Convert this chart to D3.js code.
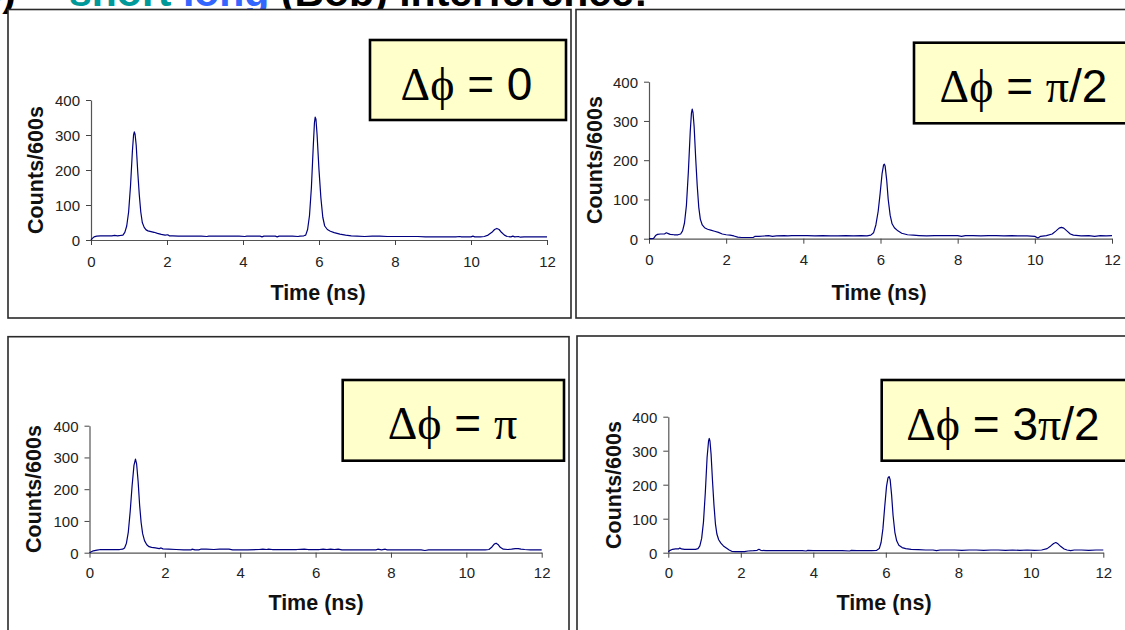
<!DOCTYPE html>
<html><head><meta charset="utf-8">
<script src="https://cdn.jsdelivr.net/npm/d3@7"></script>
<style>body{margin:0;background:#fff;overflow:hidden} svg{display:block}</style>
</head><body>
<svg id="c" width="1125" height="630"></svg>
<script>
// ---------- data ----------
const xTicks = [0, 2, 4, 6, 8, 10, 12];
const yTicks = [0, 100, 200, 300, 400];
const xTitle = "Time (ns)";
const yTitle = "Counts/600s";
const titleParts = [["short", "#009999"], ["long", "#3366ff"], ["(Bob) interference:", "#000"]];
const panelLabels = [
  [["Δϕ", "serif"], [" = ", "sans"], ["0", "sans"]],
  [["Δϕ", "serif"], [" = ", "sans"], ["π", "serif"], ["/2", "sans"]],
  [["Δϕ", "serif"], [" = ", "sans"], ["π", "serif"]],
  [["Δϕ", "serif"], [" = ", "sans"], ["3", "sans"], ["π", "serif"], ["/2", "sans"]]
];
// [time (ns), counts]
const seriesPhi0 = [[0,0],[0.03,4],[0.08,9],[0.15,11],[0.25,12],[0.35,12],[0.45,12],[0.55,12],[0.62,13],[0.7,12],[0.78,13],[0.84,14],[0.89,22],[0.94,40],[0.99,80],[1.04,155],[1.09,255],[1.12,300],[1.14,309],[1.16,302],[1.19,270],[1.23,195],[1.27,130],[1.31,80],[1.35,50],[1.4,36],[1.45,29],[1.5,26],[1.58,24],[1.66,22],[1.75,19],[1.85,16],[1.95,14],[2.02,15],[2.06,12],[2.15,12],[2.3,11],[2.5,11],[2.7,11],[2.9,11],[3.05,10],[3.1,11],[3.3,11],[3.5,11],[3.7,11],[3.9,11],[4.05,10],[4.1,11],[4.3,11],[4.45,11],[4.5,9],[4.55,11],[4.7,11],[4.85,11],[4.9,9],[4.95,11],[5.1,11],[5.3,11],[5.45,10],[5.5,11],[5.6,12],[5.65,14],[5.7,30],[5.75,70],[5.8,150],[5.85,270],[5.88,335],[5.9,351],[5.92,345],[5.95,300],[6.0,200],[6.05,120],[6.1,65],[6.15,40],[6.22,30],[6.3,25],[6.4,21],[6.55,17],[6.7,14],[6.85,12],[7.0,11],[7.2,10],[7.4,11],[7.6,11],[7.8,10],[8.0,10],[8.2,10],[8.4,10],[8.6,10],[8.8,9],[9.0,9],[9.2,9],[9.4,9],[9.6,9],[9.7,10],[9.75,9],[9.9,9],[10.0,9],[10.05,11],[10.1,9],[10.25,9],[10.35,10],[10.45,14],[10.55,22],[10.62,30],[10.68,33],[10.74,30],[10.8,22],[10.88,14],[10.95,10],[11.05,9],[11.1,11],[11.15,9],[11.25,10],[11.3,8],[11.4,9],[11.6,9],[11.8,9],[12.0,9]];
const seriesPhiHalfPi = [[0,0],[0.05,0],[0.12,1],[0.17,8],[0.22,11],[0.3,12],[0.4,12],[0.45,15],[0.5,13],[0.55,11],[0.65,10],[0.75,10],[0.82,12],[0.87,20],[0.92,40],[0.97,85],[1.02,170],[1.07,275],[1.1,320],[1.12,330],[1.14,322],[1.17,285],[1.21,205],[1.25,135],[1.29,80],[1.33,50],[1.38,35],[1.44,28],[1.52,24],[1.6,22],[1.7,19],[1.8,16],[1.9,12],[2.0,10],[2.1,9],[2.2,7],[2.3,4],[2.4,3],[2.5,3],[2.6,3],[2.7,3],[2.75,6],[2.85,6],[3.0,7],[3.1,8],[3.2,6],[3.3,7],[3.5,8],[3.6,7],[3.7,8],[3.9,8],[4.1,8],[4.3,7],[4.5,8],[4.7,7],[4.9,7],[5.1,8],[5.3,7],[5.5,8],[5.65,7],[5.75,9],[5.82,15],[5.88,35],[5.94,70],[5.99,115],[6.04,165],[6.08,188],[6.1,190],[6.12,185],[6.16,150],[6.2,100],[6.25,60],[6.3,38],[6.36,28],[6.45,20],[6.55,14],[6.7,10],[6.85,9],[7.0,8],[7.2,7],[7.4,8],[7.6,8],[7.8,8],[8.0,8],[8.1,6],[8.2,8],[8.4,8],[8.6,7],[8.8,8],[9.0,8],[9.2,7],[9.4,8],[9.6,7],[9.8,7],[10.0,6],[10.08,2],[10.15,6],[10.3,8],[10.45,12],[10.55,20],[10.63,27],[10.69,29],[10.75,27],[10.83,20],[10.92,12],[11.0,9],[11.2,7],[11.4,8],[11.55,6],[11.7,8],[11.85,7],[12.0,8]];
const seriesPhiPi = [[0,0],[0.05,3],[0.1,6],[0.2,8],[0.3,10],[0.4,10],[0.5,10],[0.6,10],[0.7,10],[0.8,10],[0.88,11],[0.93,15],[0.98,30],[1.03,65],[1.08,130],[1.13,210],[1.18,275],[1.22,295],[1.25,280],[1.29,225],[1.33,150],[1.37,95],[1.41,60],[1.46,38],[1.52,25],[1.58,19],[1.65,17],[1.75,15],[1.85,13],[1.9,15],[1.95,12],[2.1,11],[2.3,10],[2.5,9],[2.7,9],[2.72,11],[2.8,9],[2.9,9],[2.95,11],[3.1,11],[3.3,10],[3.45,11],[3.6,11],[3.7,11],[3.8,9],[4.0,9],[4.2,9],[4.5,10],[4.6,11],[4.7,10],[4.75,11],[4.85,10],[5.0,10],[5.2,10],[5.5,10],[5.7,11],[5.8,10],[6.0,10],[6.1,10],[6.2,11],[6.3,10],[6.4,11],[6.5,10],[6.6,11],[6.7,9],[7.0,9],[7.3,9],[7.6,9],[7.65,11],[7.75,9],[7.85,11],[7.9,9],[8.2,9],[8.5,9],[8.8,9],[8.9,7],[9.0,9],[9.3,9],[9.6,9],[9.9,9],[10.2,9],[10.5,9],[10.6,10],[10.68,18],[10.74,27],[10.79,30],[10.84,26],[10.9,17],[10.98,11],[11.1,10],[11.2,11],[11.3,13],[11.38,13],[11.45,11],[11.55,10],[11.7,9],[11.9,9],[12.0,9]];
const seriesPhi3HalfPi = [[0,3],[0.05,7],[0.12,10],[0.2,11],[0.28,11],[0.32,14],[0.36,11],[0.45,10],[0.55,10],[0.65,10],[0.75,10],[0.82,12],[0.87,20],[0.92,42],[0.97,90],[1.02,175],[1.07,280],[1.11,328],[1.13,336],[1.15,328],[1.18,290],[1.22,210],[1.26,140],[1.3,85],[1.34,55],[1.39,38],[1.45,28],[1.52,20],[1.6,14],[1.68,8],[1.75,4],[1.85,3],[2.0,3],[2.1,3],[2.2,5],[2.35,6],[2.45,7],[2.5,10],[2.55,7],[2.7,6],[2.9,6],[3.1,6],[3.3,6],[3.5,6],[3.7,6],[3.8,5],[3.85,7],[4.0,6],[4.2,6],[4.4,6],[4.6,6],[4.8,6],[5.0,5],[5.05,7],[5.2,6],[5.4,6],[5.6,6],[5.75,7],[5.82,12],[5.87,30],[5.92,70],[5.97,135],[6.02,195],[6.06,220],[6.09,224],[6.12,215],[6.16,170],[6.2,110],[6.25,60],[6.3,35],[6.36,22],[6.45,15],[6.55,12],[6.7,10],[6.9,9],[7.1,8],[7.3,8],[7.4,6],[7.5,8],[7.7,8],[7.9,8],[8.1,7],[8.3,8],[8.5,8],[8.7,7],[8.9,8],[9.1,8],[9.3,7],[9.5,8],[9.7,7],[9.9,8],[10.1,7],[10.3,8],[10.45,12],[10.55,20],[10.63,27],[10.69,30],[10.75,26],[10.83,18],[10.92,11],[11.0,8],[11.1,6],[11.2,8],[11.4,8],[11.6,7],[11.8,8],[12.0,8]];
const allSeries = [seriesPhi0, seriesPhiHalfPi, seriesPhiPi, seriesPhi3HalfPi];

// ---------- layout ----------
const layout = [
  {frame:[8,9.5,571,318], px:[91,547], py:[240,100], box:[370,40,566,120], lab:[466.5,100], yT:[35.5,170], xT:[318,300], tickBase:266.5},
  {frame:[576,9.5,1140,318], px:[649,1112], py:[238.7,81.7], box:[914,42.7,1140,123.3], lab:[1023.5,102], yT:[595,160], xT:[879,300], tickBase:265},
  {frame:[8,336.7,569,640], px:[89.5,541.7], py:[552.7,425.7], box:[342.7,380,564,460.7], lab:[452.5,439], yT:[33.5,489], xT:[316,610], tickBase:578.5},
  {frame:[577,336,1140,640], px:[668.3,1103.3], py:[552.7,416.7], box:[881.7,380,1140,460.7], lab:[1003,439.5], yT:[613.5,485], xT:[884,610], tickBase:577.7}
];
const SANS = "Arial, 'Liberation Sans', sans-serif";
const SERIF = "'Times New Roman', 'Liberation Serif', serif";

const svg = d3.select("#c");
svg.append("rect").attr("width",1125).attr("height",630).attr("fill","#fff");

// title (cut off at top, as in the reference)
const title = svg.append("g").attr("font-family", SANS).attr("font-weight","bold").attr("font-size",41);
title.append("text").attr("x",16).attr("y",5.5).attr("text-anchor","end").text("b)");
const tt = title.append("text").attr("x",69).attr("y",5.5).style("white-space","pre");
titleParts.forEach((p,i)=>{ tt.append("tspan").attr("fill",p[1]).text((i?" ":"")+p[0]); });

layout.forEach((L,i)=>{
  const g = svg.append("g");
  const [fx0,fy0,fx1,fy1] = L.frame;
  g.append("rect").attr("x",fx0).attr("y",fy0).attr("width",fx1-fx0).attr("height",fy1-fy0)
    .attr("fill","#fff").attr("stroke","#2a2a2a").attr("stroke-width",1.6);

  const x = d3.scaleLinear().domain([0,12]).range(L.px);
  const y = d3.scaleLinear().domain([0,400]).range(L.py);

  const xa = g.append("g").attr("transform",`translate(0,${L.py[0]})`)
    .call(d3.axisBottom(x).tickValues(xTicks).tickSize(5).tickPadding(11).tickSizeOuter(0).tickFormat(d3.format("d")));
  const ya = g.append("g").attr("transform",`translate(${L.px[0]},0)`)
    .call(d3.axisLeft(y).tickValues(yTicks).tickSize(5).tickPadding(6).tickSizeOuter(0).tickFormat(d3.format("d")));
  [xa,ya].forEach(a=>{
    a.select(".domain").attr("stroke","#555").attr("stroke-width",1.2);
    a.selectAll(".tick line").attr("stroke","#444").attr("stroke-width",1);
    a.selectAll(".tick text").attr("font-family",SANS).attr("font-size",15).attr("fill","#222");
  });
  xa.selectAll(".tick text").attr("dy",null).attr("y", L.tickBase - L.py[0]);
  ya.selectAll(".tick text").attr("dy","0.36em");

  const line = d3.line().x(d=>x(d[0])).y(d=>y(d[1]));
  g.append("path").datum(allSeries[i]).attr("d",line).attr("fill","none")
    .attr("stroke","#000080").attr("stroke-width",1.2).attr("stroke-linejoin","round");

  g.append("text").attr("x",L.xT[0]).attr("y",L.xT[1]).attr("text-anchor","middle")
    .attr("font-family",SANS).attr("font-weight","bold").attr("font-size",21.5).attr("fill","#111").text(xTitle);
  g.append("text").attr("transform",`translate(${L.yT[0]},${L.yT[1]}) rotate(-90)`)
    .attr("text-anchor","middle").attr("dominant-baseline","central")
    .attr("font-family",SANS).attr("font-weight","bold").attr("font-size",21.5).attr("fill","#111").text(yTitle);

  const [bx0,by0,bx1,by1] = L.box;
  g.append("rect").attr("x",bx0).attr("y",by0).attr("width",bx1-bx0).attr("height",by1-by0)
    .attr("fill","#ffffcc").attr("stroke","#000").attr("stroke-width",2.6);
  const t = g.append("text").attr("x",L.lab[0]).attr("y",L.lab[1]).attr("text-anchor","middle")
    .attr("font-size",46).attr("fill","#000").style("white-space","pre");
  panelLabels[i].forEach(s=>{
    t.append("tspan").attr("font-family", s[1]==="serif"?SERIF:SANS).text(s[0]);
  });
});
</script>
</body></html>
